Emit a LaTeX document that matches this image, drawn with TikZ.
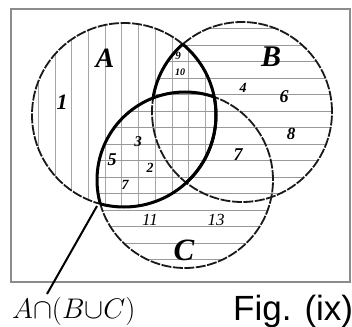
\documentclass[tikz,border=0pt]{standalone}
\usepackage{fontspec}
\setmainfont{Liberation Serif}
\newfontfamily\arialfont{Liberation Sans}
\begin{document}
\begin{tikzpicture}[x=1pt,y=-1pt,
  circ/.style={line width=1.8pt, draw=black!90, dash pattern=on 10pt off 1.5pt},
  boldline/.style={line width=3pt, draw=black},
  vhatch/.style={line width=0.8pt, draw=black!35},
  hhatch/.style={line width=0.8pt, draw=black!40},
  num/.style={font=\itshape\bfseries\fontsize{#1}{#1}\selectfont, inner sep=0pt},
  numl/.style={font=\itshape\fontsize{#1}{#1}\selectfont, inner sep=0pt},
]
\useasboundingbox (0,0) rectangle (352,326);
\def\pathA{(124,115) circle (92pt)}
\def\pathB{(242,112) circle (90pt)}
\def\pathC{(185,180) circle (88pt)}
% frame
\draw[line width=1.5pt, draw=black!45] (11,9) rectangle (350,282);
% vertical hatching in A
\begin{scope}
  \clip \pathA;
  \foreach \x in {38.3,55,...,212} \draw[vhatch] (\x,0) -- (\x,326);
\end{scope}
% horizontal hatching in B and C
\begin{scope}
  \clip \pathB;
  \foreach \y in {28.5,45,...,272} \draw[hhatch] (0,\y) -- (352,\y);
\end{scope}
\begin{scope}
  \clip \pathC;
  \foreach \y in {28.5,45,...,272} \draw[hhatch] (0,\y) -- (352,\y);
\end{scope}
% circles
\draw[circ] \pathA;
\draw[circ] \pathB;
\draw[circ] \pathC;
% bold outline of A cap (B cup C)
\begin{scope}\clip \pathB; \draw[boldline] \pathA; \end{scope}
\begin{scope}\clip \pathC; \draw[boldline] \pathA; \end{scope}
\begin{scope}
  \clip \pathA;
  \begin{scope}[even odd rule]
    \clip (0,0) rectangle (352,326) \pathC;
    \draw[boldline] \pathB;
  \end{scope}
\end{scope}
\begin{scope}\clip \pathA; \draw[boldline] \pathC; \end{scope}
% set letters
\node[num=28] (lA) at (105,58) {A};
\node[num=30] (lB) at (271,57) {B};
\node[num=31] (lC) at (184,250) {C};
% region numbers
\node[num=22] (n1) at (62,102) {1};
\node[num=11] (n9) at (178,56) {9};
\node[num=10] (n10) at (180,72) {10};
\node[num=14] (n4) at (243,88) {4};
\node[num=18] (n6) at (284,97) {6};
\node[num=17] (n8) at (291,134) {8};
\node[num=18] (n7) at (238,155) {7};
\node[num=15] (n3) at (138,142) {3};
\node[num=18] (n5) at (112,160) {5};
\node[num=14] (n2) at (150,168) {2};
\node[num=14] (n7b) at (125,185) {7};
\node[numl=17] (n11) at (150,220) {11};
\node[numl=17] (n13) at (216,220) {13};
% captions
\node[anchor=base west, inner sep=0pt, scale=1.14, font=\fontsize{24.88}{28}\selectfont] (lab) at (12,318) {$A{\cap}(B{\cup}C)$};
\node[anchor=base west, inner sep=0pt, font=\arialfont\fontsize{35}{40}\selectfont] (fig) at (233,320) {Fig. (ix)};
% pointer
\coordinate (root) at (97,206);
\coordinate (tip) at (47,294);
\draw[line width=2pt] (root) -- (tip);
\end{tikzpicture}
\end{document}
